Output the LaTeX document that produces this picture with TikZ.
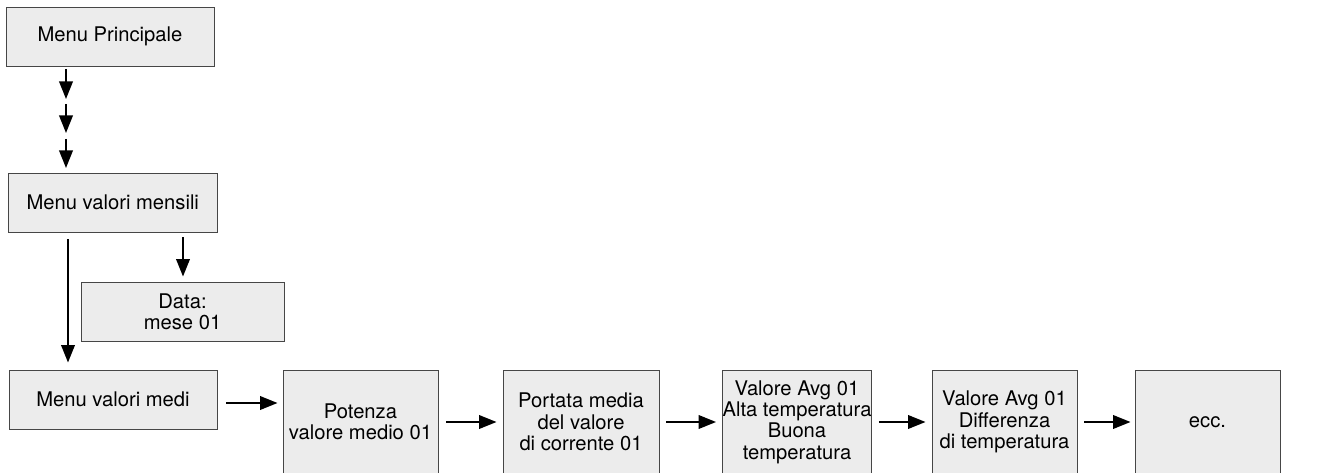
\documentclass[tikz,border=0pt]{standalone}
\usepackage{fontspec}
\setmainfont{TeX Gyre Heros}
\usetikzlibrary{arrows.meta,calc}
\definecolor{boxfill}{RGB}{236,236,236}
\definecolor{boxline}{RGB}{70,70,70}
\tikzset{
  menubox/.style={draw=boxline, fill=boxfill, line width=0.9pt, inner sep=0pt, align=center,
    font=\fontsize{20.2}{21.3}\selectfont},
  arr/.style={line width=2.1pt, -{Triangle[length=17.5pt,width=13.5pt]}},
}
\begin{document}
\begin{tikzpicture}[x=1pt,y=-1pt]
\useasboundingbox (0,0) rectangle (1320,473);
% nodes
\node[menubox, minimum width=208pt, minimum height=59pt] (mp) at (110,36.5) {Menu Principale};
\node[menubox, minimum width=208.5pt, minimum height=59pt] (mvm) at (112.75,202.5) {Menu valori mensili};
\node[menubox, minimum width=203pt, minimum height=59pt] (data) at (182.5,311.5) {Data:\\mese 01};
\node[menubox, minimum width=208pt, minimum height=59pt] (med) at (113,399.5) {Menu valori medi};
\node[menubox, minimum width=155pt, minimum height=104pt] (pot) at (360.5,422) {Potenza\\valore medio 01};
\node[menubox, minimum width=156pt, minimum height=104pt] (por) at (581,422) {Portata media\\del valore\\di corrente 01};
\node[menubox, minimum width=148pt, minimum height=104pt] (avga) at (797,422) {Valore Avg 01\\Alta temperatura\\Buona\\temperatura};
\node[menubox, minimum width=145pt, minimum height=104pt] (avgb) at (1004.5,422) {Valore Avg 01\\Differenza\\di temperatura};
\node[menubox, minimum width=145pt, minimum height=104pt] (ecc) at (1207.5,422) {ecc.};
% coordinates for the stacked arrows
\coordinate (s0) at (66,69);
\coordinate (s1) at (66,99);
\coordinate (s2) at (66,104);
\coordinate (s3) at (66,133);
\coordinate (s4) at (66,139);
\coordinate (s5) at (66,168);
% connectors
\draw[arr] (s0) -- (s1);
\draw[arr] (s2) -- (s3);
\draw[arr] (s4) -- (s5);
\draw[arr] ($(mvm.south -| 68,0)+(0,7)$) -- ($(med.north -| 68,0)+(0,-7)$);
\draw[arr] ($(mvm.south -| data.north)+(0.5,5)$) -- ($(data.north)+(0.5,-5)$);
\draw[arr] ($(med.east)+(9,3.5)$) -- ($(pot.west |- 0,403)+(-5,0)$);
\draw[arr, shorten <=8pt, shorten >=6pt] (pot) -- (por);
\draw[arr, shorten <=7pt, shorten >=6pt] (por) -- (avga);
\draw[arr, shorten <=7pt, shorten >=6pt] (avga) -- (avgb);
\draw[arr, shorten <=7pt, shorten >=4pt] (avgb) -- (ecc);
\end{tikzpicture}
\end{document}
